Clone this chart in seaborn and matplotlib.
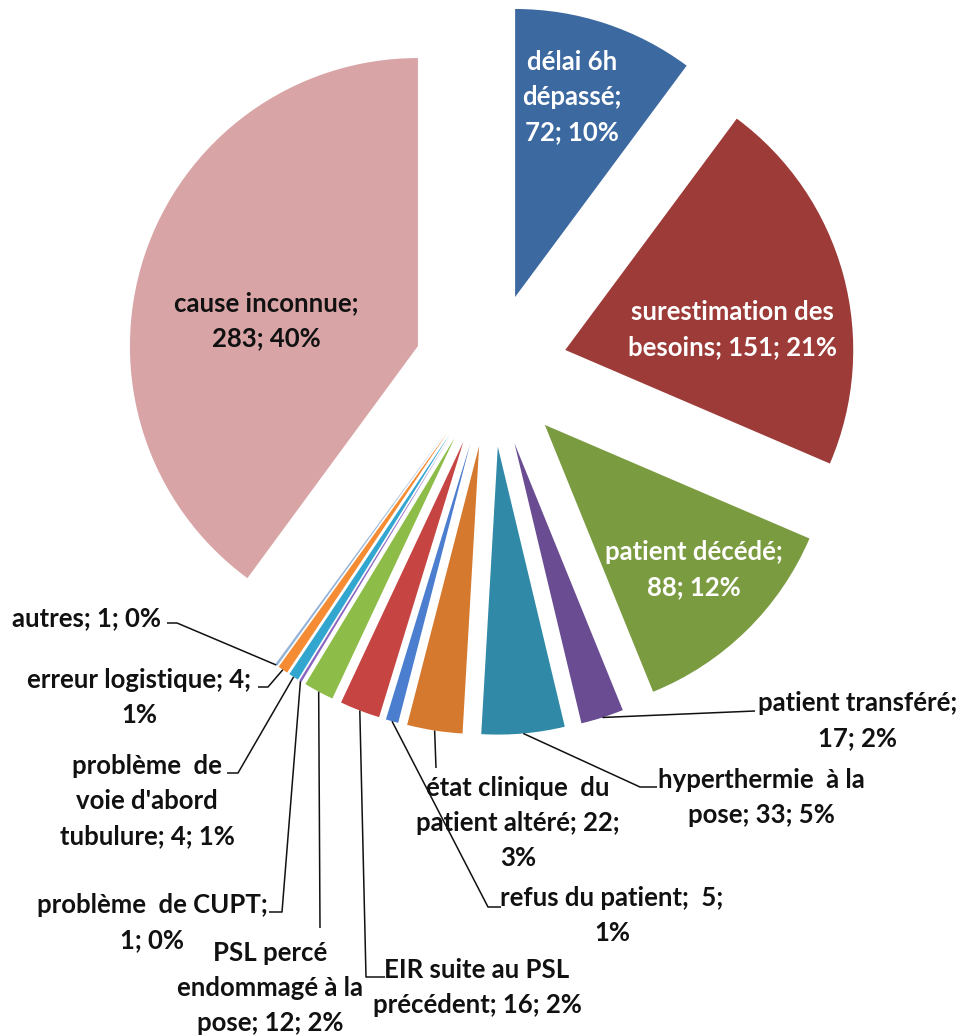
import matplotlib
matplotlib.use("Agg")
import matplotlib.pyplot as plt
import numpy as np
import seaborn as sns

# ---------------- data ----------------
categories = ["délai 6h dépassé", "surestimation des besoins", "patient décédé",
              "patient transféré", "hyperthermie à la pose",
              "état clinique du patient altéré", "refus du patient",
              "EIR suite au PSL précédent", "PSL percé endommagé à la pose",
              "problème de CUPT", "problème de voie d'abord tubulure",
              "erreur logistique", "autres", "cause inconnue"]
values = [72, 151, 88, 17, 33, 22, 5, 16, 12, 1, 4, 4, 1, 283]
percents = [10, 21, 12, 2, 5, 3, 1, 2, 2, 0, 1, 1, 0, 40]

label_lines = [
    ["délai 6h", "dépassé;", "72; 10%"],
    ["surestimation des", "besoins; 151; 21%"],
    ["patient décédé;", "88; 12%"],
    ["patient transféré;", "17; 2%"],
    ["hyperthermie  à la", "pose; 33; 5%"],
    ["état clinique  du", "patient altéré; 22;", "3%"],
    ["refus du patient;  5;", "1%"],
    ["EIR suite au PSL", "précédent; 16; 2%"],
    ["PSL percé", "endommagé à la", "pose; 12; 2%"],
    ["problème  de CUPT;", "1; 0%"],
    ["problème  de", "voie d'abord", "tubulure; 4; 1%"],
    ["erreur logistique; 4;", "1%"],
    ["autres; 1; 0%"],
    ["cause inconnue;", "283; 40%"],
]

colors = ["#3D69A1", "#9D3B38", "#7B9B41", "#694C91", "#3189A8", "#D5792E",
          "#4B7ECF", "#C64543", "#8DBD48", "#8966BF", "#33A6D0", "#F58B33",
          "#95B3D7", "#D8A4A6"]
text_colors = ["white", "white", "white"] + ["#111111"] * 11

# ---------------- layout (pixels of the 962x1036 canvas) ----------------
W, H = 962, 1036
CX, CY, R = 491.0, 370.0, 288.0      # pie centre and radius in pixels
EXPLODE = 0.267
LINE_STEP = 35.0

label_pos = [(572, 62), (732, 312), (694, 552), (858, 703), (761, 780),
             (518, 788), (612, 898), (477, 970), (270, 953), (152, 905),
             (147, 766), (139, 680), (86, 618), (266, 303)]

leader_pts = {
    3: [(755, 711)],
    4: [(640, 787), (657, 787)],
    5: [(436, 768)],
    6: [(488, 907), (501, 907)],
    7: [(366, 977), (385, 977)],
    8: [(320, 928)],
    9: [(282, 912), (269, 912)],
    10: [(238, 773), (227, 773)],
    11: [(268, 687), (258, 687)],
    12: [(177, 623), (167, 623)],
}


def px(x, y):
    return ((x - CX) / R, (CY - y) / R)


sns.set_theme(style="white")
plt.rcParams["font.family"] = ["Lato", "DejaVu Sans"]

fig = plt.figure(figsize=(W / 100, H / 100), dpi=100)
ax = fig.add_axes([0, 0, 1, 1])

palette = sns.color_palette(colors)
wedges, _ = ax.pie(values, colors=palette, startangle=90, counterclock=False,
                   explode=[EXPLODE] * len(values), radius=1.0,
                   wedgeprops=dict(linewidth=0))

x0, _ = px(0, 0)
x1, _ = px(W, 0)
_, y0 = px(0, H)
_, y1 = px(0, 0)
ax.set_xlim(x0, x1)
ax.set_ylim(y0, y1)
ax.set_aspect("auto")
ax.axis("off")

# leader lines
for i, pts in leader_pts.items():
    w = wedges[i]
    mid = np.deg2rad((w.theta1 + w.theta2) / 2.0)
    sx = w.center[0] + w.r * np.cos(mid)
    sy = w.center[1] + w.r * np.sin(mid)
    xs = [sx] + [px(*p)[0] for p in pts]
    ys = [sy] + [px(*p)[1] for p in pts]
    ax.plot(xs, ys, color="#111111", lw=1.1, solid_capstyle="butt")

# labels
for i, lines in enumerate(label_lines):
    lx, ly = label_pos[i]
    for k, line in enumerate(lines):
        tx, ty = px(lx, ly + k * LINE_STEP)
        ax.text(tx, ty, line, ha="center", va="center", fontsize=18.5,
                fontweight="bold", color=text_colors[i])

fig.savefig("out.png", dpi=100, facecolor="white")
